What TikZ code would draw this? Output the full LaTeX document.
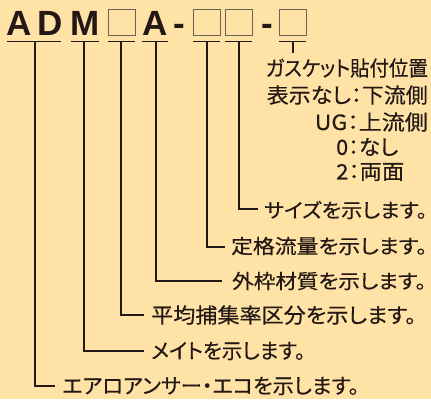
\documentclass[tikz,border=0pt]{standalone}
\usepackage{fontspec}
\usepackage{graphicx}
\setmainfont{Liberation Sans}
\newfontfamily\jp[RawFeature=+palt,FakeBold=0.4]{Noto Sans CJK JP}
\newcommand\fitw[2]{\resizebox{#1pt}{\height}{#2}}
\definecolor{bgc}{HTML}{FFE3A6}
\definecolor{ink}{HTML}{231815}
\definecolor{boxc}{HTML}{6B6257}
\begin{document}
\begin{tikzpicture}[x=1pt,y=-1pt,
  code/.style={inner sep=0,anchor=base,font=\fontsize{35}{35}\selectfont\bfseries,text=ink},
  slot/.style={draw=boxc,line width=1pt,minimum width=27pt,minimum height=26pt,inner sep=0},
  ul/.style={draw=ink,line width=1.1pt},
  lead/.style={draw=ink,line width=1.1pt},
  lbl/.style={inner sep=0,font=\jp\fontsize{21}{24}\selectfont,text=ink},
  lbls/.style={inner sep=0,font=\jp\fontsize{19.8}{24}\selectfont,text=ink}]
\fill[bgc] (0,0) rectangle (431,399);
\useasboundingbox (0,0) rectangle (431,399);
% code row
\node[code] (cA) at (19.5,35) {A};
\node[code] (cD) at (50,35) {D};
\node[code] (cM) at (85,35) {M};
\node[slot] (s1) at (121.5,22.5) {};
\node[code] (cA2) at (155.5,35) {A};
\node[code] (d1) at (179.5,35) {-};
\node[slot] (s2) at (206.5,22.5) {};
\node[slot] (s3) at (238.5,22.5) {};
\node[code] (d2) at (267,35) {-};
\node[slot] (s4) at (293,22.5) {};
% underlines
\coordinate (uAD) at (35,41.5);
\coordinate (uM) at (84,41.5);
\coordinate (uS1) at (121,41.5);
\coordinate (uA) at (156,41.5);
\coordinate (uS2) at (207,41.5);
\coordinate (uS3) at (239,41.5);
\coordinate (uS4) at (293,41.5);
\draw[ul] (7,41.5) -- (61,41.5);
\draw[ul] (71,41.5) -- (99,41.5);
\draw[ul] (108,41.5) -- (135,41.5);
\draw[ul] (142,41.5) -- (168,41.5);
\draw[ul] (193,41.5) -- (220,41.5);
\draw[ul] (224.5,41.5) -- (252,41.5);
\draw[ul] (279,41.5) -- (306,41.5);
% labels
\node[lbl,anchor=east] (g1) at (428,68) {\fitw{162}{ガスケット貼付位置}};
\node[lbl,anchor=east] (g2) at (428,95) {\fitw{161}{表示なし：下流側}};
\node[lbl,anchor=east] (g3) at (428,122) {\fitw{113}{UG：上流側}};
\node[lbl,anchor=west] (g4) at (336,147) {\fitw{62}{0：なし}};
\node[lbl,anchor=west] (g5) at (336,172) {\fitw{68}{2：両面}};
\node[lbls,anchor=west] (tS3) at (264,210) {\fitw{163}{サイズを示します。}};
\node[lbls,anchor=west] (tS2) at (231,246) {\fitw{196}{定格流量を示します。}};
\node[lbls,anchor=west] (tA) at (232,281) {\fitw{194}{外枠材質を示します。}};
\node[lbl,anchor=west] (tS1) at (151,315) {\fitw{265}{平均捕集率区分を示します。}};
\node[lbl,anchor=west] (tM) at (151,351) {\fitw{154}{メイトを示します。}};
\node[lbl,anchor=west] (tAD) at (62,386) {\fitw{297}{エアロアンサー・エコを示します。}};
% leader ends
\coordinate (eS3) at (258,209);
\coordinate (eS2) at (225,247);
\coordinate (eA) at (222,281);
\coordinate (eS1) at (144,315);
\coordinate (eM) at (144,351);
\coordinate (eAD) at (55,386);
\coordinate (eS4) at (293,53);
\draw[lead] (uS4) -- (eS4);
\draw[lead] (uS3) |- (eS3);
\draw[lead] (uS2) |- (eS2);
\draw[lead] (uA) |- (eA);
\draw[lead] (uS1) |- (eS1);
\draw[lead] (uM) |- (eM);
\draw[lead] (uAD) |- (eAD);
\end{tikzpicture}
\end{document}
